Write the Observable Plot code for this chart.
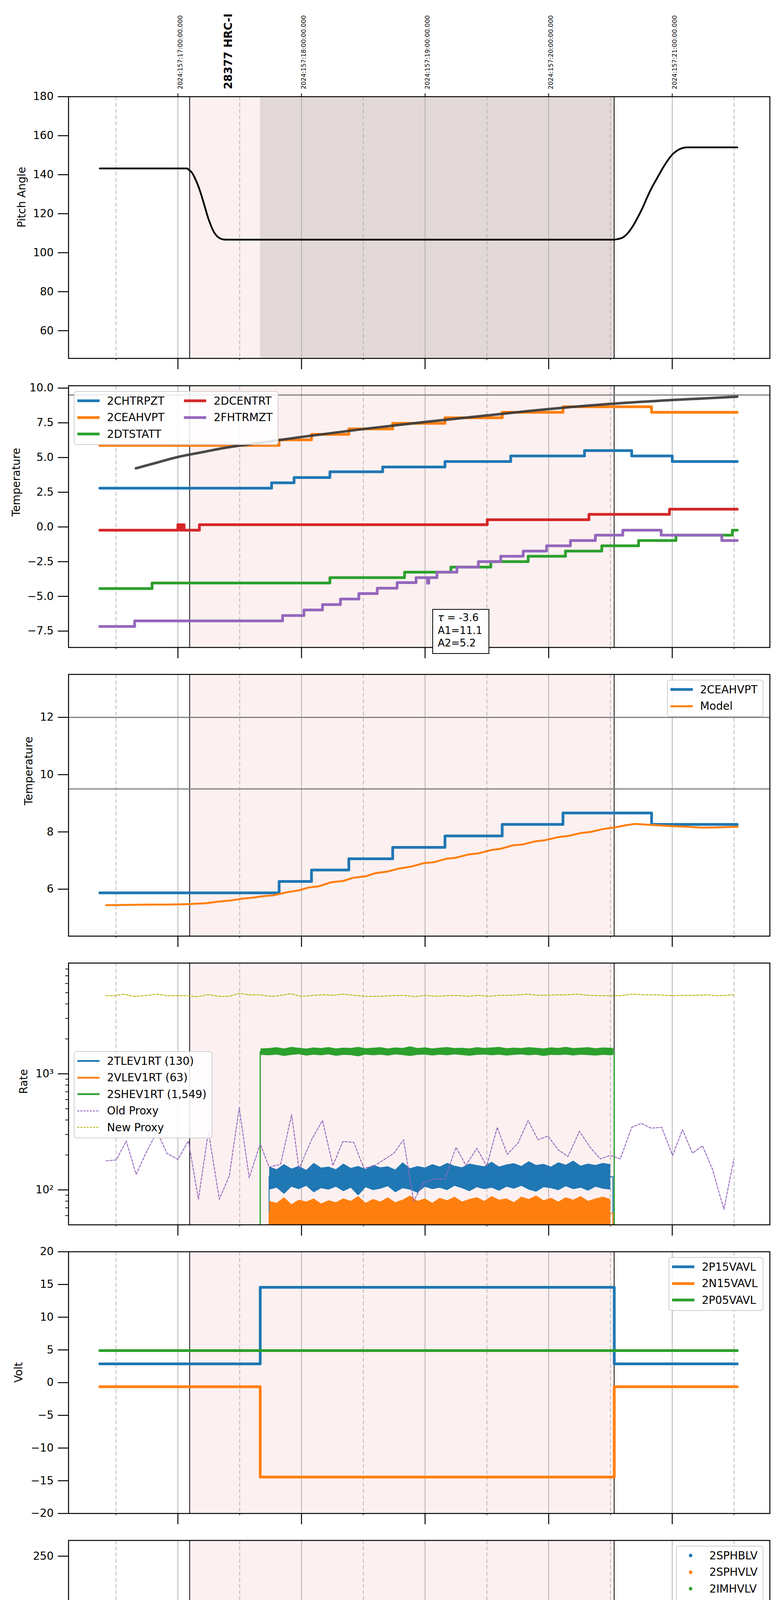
<!DOCTYPE html>
<html><head><meta charset="utf-8">
<script src="https://cdn.jsdelivr.net/npm/d3@7"></script>
<script src="https://cdn.jsdelivr.net/npm/@observablehq/plot@0.6"></script>
<style>
body{margin:0;background:#fff;font-family:"DejaVu Sans",sans-serif;}
#root{position:relative;width:2000px;height:6200px;overflow:hidden;background:#fff;}
.legend{position:absolute;background:rgba(255,255,255,0.85);border:2px solid #d0d0d0;border-radius:7px;font-size:27.8px;padding:2px 13px 4px 7px;box-sizing:border-box;color:#000;}
.legend .grid{display:grid;grid-auto-flow:column;column-gap:50px;}
.legend .row{height:42.5px;display:flex;align-items:center;white-space:nowrap;}
.legend svg{margin-right:19px;flex:none;}
.annot{position:absolute;background:#fff;border:2.5px solid #000;font-size:26px;line-height:32.5px;padding:4px 12px 0 12px;box-sizing:border-box;white-space:nowrap;}
</style></head><body><div id="root"></div>
<script>
// ---------- shared x-axis data ----------
const X_DOMAIN = [12.115, 17.79];
const HOURS = [13, 14, 15, 16, 17];
const HALVES = [12.5, 13.5, 14.5, 15.5, 16.5, 17.5];
const HOUR_LABELS = ["13h", "14h", "15h", "16h", "17h"];
const HALF_LABEL = "30";
const UTC_LABELS = ["2024:157:17:00:00.000", "2024:157:18:00:00.000", "2024:157:19:00:00.000", "2024:157:20:00:00.000", "2024:157:21:00:00.000"];
const OBSID_LABEL = "28377 HRC-I";
const OBSID_X = 13.376;
const OBS_SPAN = [13.095, 16.53];
const DARK_SPAN = [13.665, 16.53];
const X_LABEL = "2024-06-05 (157)";

// ---------- panel 1: pitch ----------
const pitchT = [12.368, 13.072, 13.093, 13.114, 13.135, 13.156, 13.178, 13.199, 13.22, 13.24, 13.262, 13.283, 13.304, 13.325, 13.346, 13.367, 13.40, 16.53, 16.56, 16.60, 16.64, 16.68, 16.72, 16.76, 16.80, 16.84, 16.88, 16.92, 16.96, 17.00, 17.04, 17.08, 17.12, 17.526];
const pitchV = [143.2, 143.2, 142.3, 141.0, 138.6, 135.6, 131.8, 127.6, 123.1, 118.7, 114.8, 111.6, 109.4, 108.0, 107.2, 106.8, 106.7, 106.7, 107.0, 107.8, 110.0, 113.5, 118.0, 123.0, 128.8, 134.0, 138.5, 143.0, 147.0, 150.3, 152.4, 153.6, 154.0, 154.0];

// ---------- panel 2: temperatures ----------
const chtrpztT = [12.368, 13.758, 13.94, 14.23, 14.657, 15.161, 15.693, 16.29, 16.672, 17.0, 17.526];
const chtrpztV = [2.79, 3.18, 3.56, 3.97, 4.32, 4.71, 5.11, 5.50, 5.11, 4.71, 4.71];
const ceahvptT = [12.368, 13.819, 14.081, 14.383, 14.738, 15.161, 15.624, 16.116, 16.833, 17.526];
const ceahvptV = [5.87, 6.27, 6.67, 7.06, 7.46, 7.86, 8.26, 8.66, 8.26, 8.26];
const dtstattT = [12.368, 12.791, 14.23, 14.834, 15.209, 15.532, 15.834, 16.136, 16.43, 16.728, 17.03, 17.486, 17.526];
const dtstattV = [-4.44, -4.04, -3.65, -3.26, -2.89, -2.50, -2.11, -1.74, -1.36, -0.98, -0.59, -0.23, -0.23];
const dcentrtT = [12.368, 13.0, 13.02, 13.035, 13.05, 13.174, 15.503, 16.326, 16.978, 17.526];
const dcentrtV = [-0.23, 0.16, -0.23, 0.16, -0.23, 0.16, 0.52, 0.91, 1.28, 1.28];
const fhtrmztT = [12.368, 12.65, 13.847, 14.02, 14.17, 14.315, 14.464, 14.613, 14.774, 14.927, 15.02, 15.03, 15.096, 15.258, 15.431, 15.612, 15.794, 15.983, 16.176, 16.378, 16.6, 16.91, 17.401, 17.526];
const fhtrmztV = [-7.17, -6.77, -6.38, -5.98, -5.59, -5.19, -4.80, -4.41, -4.01, -3.65, -4.05, -3.65, -3.26, -2.89, -2.50, -2.11, -1.74, -1.36, -0.98, -0.59, -0.23, -0.59, -0.98, -0.98];
const fitT = [12.66, 12.8, 13.0, 13.2, 13.375, 13.6, 14.0, 14.5, 15.0, 15.5, 16.0, 16.53, 17.0, 17.526];
const fitV = [4.22, 4.56, 5.04, 5.39, 5.69, 5.98, 6.48, 7.05, 7.56, 8.03, 8.49, 8.88, 9.14, 9.38];
const P2_LIMIT = [9.5];
const FIT_TEXT = ["τ", " = -3.6", "A1=11.1", "A2=5.2"];

// ---------- panel 3: model ----------
const P3_LIMITS = [12, 9.5];
const modelT = [12.42, 12.61, 12.77, 12.93, 13.09, 13.23, 13.335, 13.42, 13.52, 13.60, 13.70, 13.78, 13.88, 13.98, 14.06, 14.14, 14.24, 14.34, 14.42, 14.52, 14.60, 14.69, 14.79, 14.89, 14.99, 15.07, 15.17, 15.25, 15.35, 15.43, 15.53, 15.61, 15.71, 15.79, 15.89, 15.97, 16.08, 16.16, 16.26, 16.34, 16.44, 16.54, 16.62, 16.70, 16.84, 17.00, 17.12, 17.24, 17.37, 17.53];
const modelV = [5.44, 5.45, 5.46, 5.46, 5.48, 5.51, 5.57, 5.60, 5.67, 5.70, 5.76, 5.79, 5.89, 5.96, 6.06, 6.10, 6.24, 6.29, 6.40, 6.45, 6.56, 6.61, 6.72, 6.79, 6.91, 6.94, 7.06, 7.10, 7.21, 7.25, 7.36, 7.41, 7.53, 7.56, 7.67, 7.71, 7.82, 7.86, 7.96, 8.00, 8.10, 8.16, 8.23, 8.28, 8.24, 8.20, 8.18, 8.15, 8.16, 8.18];

// ---------- panel 4: rates ----------
const RATE_FLOOR = 45;
const rateT = [13.74,13.80,13.86,13.92,13.98,14.04,14.10,14.16,14.22,14.28,14.34,14.40,14.46,14.52,14.58,14.64,14.70,14.76,14.82,14.88,14.94,15.00,15.06,15.12,15.18,15.24,15.30,15.36,15.42,15.48,15.54,15.60,15.66,15.72,15.78,15.84,15.90,15.96,16.02,16.08,16.14,16.20,16.26,16.32,16.38,16.44,16.50];
const tlevHi = [158,150,166,152,160,148,170,155,158,150,168,154,160,151,163,156,159,149,172,153,160,155,166,158,170,161,156,168,163,159,174,158,165,169,160,176,163,167,158,172,164,178,161,168,163,170,166];
const tlevLo = [100,104,92,106,101,108,95,103,100,106,97,104,89,105,99,102,107,95,103,100,94,106,101,104,99,108,103,97,105,101,104,98,106,102,108,100,96,105,103,99,107,101,104,98,106,102,100];
const vlevHi = [80,77,86,75,82,79,84,76,81,78,84,80,88,77,83,79,86,78,82,89,80,84,77,85,81,87,79,83,86,80,88,82,84,78,87,83,89,81,85,79,86,82,88,80,84,87,83];
const shevT = [13.67,13.74,13.80,13.86,13.92,13.98,14.04,14.10,14.16,14.22,14.28,14.34,14.40,14.46,14.52,14.58,14.64,14.70,14.76,14.82,14.88,14.94,15.00,15.06,15.12,15.18,15.24,15.30,15.36,15.42,15.48,15.54,15.60,15.66,15.72,15.78,15.84,15.90,15.96,16.02,16.08,16.14,16.20,16.26,16.32,16.38,16.44,16.50,16.525];
const shevHi = [1650,1660,1690,1650,1700,1670,1645,1680,1660,1695,1650,1675,1665,1700,1655,1670,1690,1650,1680,1665,1720,1660,1685,1650,1675,1695,1660,1670,1650,1690,1665,1680,1700,1655,1675,1660,1690,1670,1650,1685,1665,1700,1660,1675,1690,1655,1680,1670,1660];
const shevLo = [1450,1440,1460,1420,1450,1470,1430,1455,1440,1465,1425,1450,1445,1410,1460,1440,1455,1430,1465,1445,1420,1450,1460,1435,1455,1440,1465,1445,1425,1450,1460,1440,1455,1430,1450,1465,1440,1455,1420,1450,1445,1460,1435,1455,1445,1430,1450,1440,1450];
const shevEdgeT = [13.55, 13.666, 16.531, 16.6];
const shevEdgeV = [30, 1549, 30, 30];
const tlevEdgeT = [13.65, 13.738, 16.52, 16.6];
const tlevEdgeV = [30, 130, 30, 30];
const vlevEdgeT = [13.65, 13.738, 16.52, 16.6];
const vlevEdgeV = [30, 63, 30, 30];
const oldProxyT = [12.42,12.501,12.582,12.662,12.743,12.831,12.912,13.0,13.085,13.166,13.247,13.335,13.416,13.496,13.577,13.666,13.738,13.831,13.92,13.98,14.081,14.17,14.254,14.335,14.423,14.504,14.585,14.746,14.826,14.907,14.988,15.068,15.161,15.25,15.33,15.419,15.499,15.584,15.665,15.753,15.834,15.914,15.995,16.076,16.156,16.249,16.338,16.418,16.499,16.58,16.672,16.749,16.83,16.914,17.003,17.083,17.164,17.244,17.325,17.418,17.498];
const oldProxyV = [178,181,264,136,210,317,206,183,264,83,320,83,132,509,127,249,157,166,445,151,270,396,162,261,257,154,160,206,270,80,115,124,124,233,163,228,160,346,202,254,396,270,291,222,194,320,231,185,198,185,346,374,340,346,198,330,207,240,151,68,183];
const newProxyT = [12.42,12.489,12.561,12.65,12.731,12.831,12.912,13.0,13.073,13.162,13.247,13.335,13.416,13.496,13.577,13.658,13.758,13.839,13.911,14.0,14.101,14.182,14.254,14.335,14.423,14.524,14.625,14.726,14.826,14.915,14.996,15.088,15.189,15.27,15.35,15.431,15.511,15.592,15.673,15.753,15.834,15.914,15.995,16.076,16.156,16.237,16.317,16.398,16.499,16.58,16.68,16.761,16.882,17.003,17.083,17.184,17.285,17.365,17.498];
const newProxyV = [4710,4710,4860,4650,4710,4860,4710,4710,4710,4620,4820,4650,4650,4940,4790,4790,4650,4750,4900,4650,4750,4800,4750,4860,4750,4650,4650,4710,4750,4620,4750,4650,4730,4730,4650,4750,4650,4750,4750,4790,4860,4750,4770,4790,4800,4860,4750,4710,4710,4710,4860,4800,4790,4710,4750,4750,4790,4710,4790];
const RATE_MAJOR = [100, 1000];
const RATE_MAJOR_LABELS = ["10²", "10³"];
const RATE_MINOR = [60,70,80,90,200,300,400,500,600,700,800,900,2000,3000,4000,5000,6000,7000,8000];

// ---------- panel 5: volts ----------
const voltT = [12.368, 13.666, 16.531, 17.526];
const p15V = [2.86, 14.57, 2.86, 2.86];
const n15V = [-0.63, -14.43, -0.63, -0.63];
const p05T = [12.368, 17.526];
const p05V = [4.89, 4.89];

// ---------- panel 6: HV monitor ----------
const imhvlvT = [13.686, 13.698, 13.71, 13.722, 13.738, 14.794, 14.867, 14.879, 14.971, 15.87, 15.906];
const imhvlvV = [99.4, 95.1, 89.8, 85.3, 82.0, 126.7, 126.7, 126.7, 126.7, 126.7, 126.7];
const imhvlvSteadyT = [13.75, 16.531];
const imhvlvSteadyV = [78.8, 78.8];
const imhblvT = [13.69, 13.69, 13.694, 13.698, 13.702, 13.71, 13.722, 13.73, 13.738, 13.746, 14.794, 14.867, 14.879, 14.971, 15.87, 15.906];
const imhblvV = [126.7, 125.5, 119.0, 106.1, 104.5, 101.3, 97.5, 93.6, 90.7, 87.8, 78.8, 78.8, 78.8, 78.8, 78.8, 78.8];
const imhblvSteadyT = [13.75, 15.19, 15.19, 16.531];
const imhblvSteadyV = [85.9, 85.9, 84.9, 84.9];

// ---------- panel 7: detector temps ----------
const spinatmT = [13.666, 13.666, 13.738, 15.67, 16.519];
const spinatmV = [-5, 1.76, 2.22, 2.69, 2.69];
const spinatmFlick = [[14.689,14.705,-5,2.22],[14.766,14.93,-5,2.22],[15.02,15.169,-5,2.22],[15.773,15.914,-5,2.69]];
const sphvatmT = [13.666, 13.666, 13.85, 13.875, 14.496, 14.927, 14.944, 14.952, 15.31, 15.725, 16.136, 16.519];
const sphvatmV = [-5, 14.32, 13.98, 14.32, 14.64, 14.98, -5, 14.98, 15.32, 15.68, 16.02, 16.02];
const sphvatmFlick = [[14.689,14.705,8.3,14.64],[14.766,14.93,8.65,14.64],[14.93,15.128,8.65,14.98],[15.14,15.161,9.0,14.98],[15.773,15.914,9.28,15.68]];
const iminatmT = [13.666, 13.666, 14.927, 16.035, 16.519];
const iminatmV = [-5, -0.07, 0.37, 0.84, 0.84];
const iminatmFlick = [[14.689,14.705,-0.07,2.22],[14.766,14.93,-0.07,2.22],[14.93,14.99,0.37,2.22],[15.02,15.035,0.37,2.22],[15.06,15.09,0.37,2.22],[15.15,15.169,0.37,2.22],[15.773,15.914,0.37,2.69]];
const imhvatmT = [13.666, 13.666, 13.758, 13.891, 14.0, 14.109, 14.23, 14.371, 14.524, 14.705, 14.927, 15.189, 15.463, 15.773, 16.136, 16.531, 16.531, 16.54];
const imhvatmV = [-5, 13.28, 13.62, 13.95, 14.29, 14.64, 14.98, 15.32, 15.68, 16.02, 16.37, 16.72, 17.06, 17.40, 17.75, 25, -5, -5];
const imhvatmFlick = [[14.766,14.93,14.6,16.02],[14.93,15.189,14.9,16.37],[15.773,15.914,15.7,17.4]];

// ---------- panel 8: FEA temps ----------
const fhtrmzt8T = [12.368, 12.646, 13.84, 14.017, 14.163, 14.308, 14.46, 14.615, 14.774, 14.927, 15.096, 15.258, 15.431, 15.612, 15.794, 15.983, 16.176, 16.378, 16.6, 16.91, 17.401, 17.526];
const fhtrmzt8V = [-7.18, -6.77, -6.37, -5.97, -5.57, -5.18, -4.79, -4.39, -4.03, -3.65, -3.24, -2.86, -2.51, -2.11, -1.74, -1.36, -0.99, -0.61, -0.24, -0.61, -0.99, -0.99];
const fradpytT = [12.368, 12.52, 13.152, 13.27, 13.414, 13.597, 13.869, 14.043, 14.21, 14.377, 14.542, 14.71, 14.886, 15.068, 15.25, 15.439, 15.64, 15.834, 16.043, 16.257, 16.487, 16.793, 17.095, 17.353, 17.526];
const fradpytV = [-8.39, -8.0, -7.59, -8.0, -8.39, -8.9, -8.39, -8.0, -7.59, -7.17, -6.77, -6.37, -5.99, -5.59, -5.20, -4.81, -4.42, -4.03, -3.65, -3.25, -2.88, -2.51, -2.88, -3.25, -3.25];
const fepratmT = [13.666, 13.666, 13.73, 13.776, 13.825, 13.888, 13.97, 14.065, 14.19, 14.323, 14.464, 14.613, 14.766, 14.927, 15.108, 15.31, 15.491, 15.701, 15.922, 16.128, 16.358, 16.519];
const fepratmV = [-10, -6.87, -6.43, -6.04, -5.61, -5.21, -4.78, -4.36, -3.94, -3.51, -3.10, -2.69, -2.27, -1.83, -1.39, -0.95, -0.52, -0.09, 0.37, 0.83, 1.28, 1.28];
const fepratmFlick = [[14.689,14.705,-6.05,-2.69],[14.766,14.93,-6.05,-2.27],[14.93,15.02,-6.05,-1.83],[15.04,15.06,-6.05,-1.83],[15.10,15.12,-6.05,-1.83],[15.773,15.813,-6.05,-0.09],[15.854,15.914,-6.05,-0.09]];
const fe00atmT = [13.666,13.666,13.79,13.91,13.99,14.105,14.216,14.324,14.41,14.416,14.43,14.557,14.67,14.766,14.846,14.852,14.93,14.945,14.952,15.02,15.128,15.31,15.451,15.592,15.598,15.753,15.922,15.98,15.986,16.035,16.176,16.335,16.341,16.358,16.509,16.515,16.531,16.531,16.54];
const fe00atmV = [-10,-7.84,-7.49,-7.11,-6.76,-6.36,-6.04,-5.68,-6.04,-5.68,-5.36,-4.98,-4.63,-4.36,-4.7,-4.36,-4.04,-10,-4.04,-3.75,-3.29,-2.96,-2.62,-1.9,-2.27,-2.0,-1.62,3,-1.62,-1.28,-0.95,-1.97,-0.95,-0.61,-0.3,-0.61,3,-10,-10];
const fe00atmFlick = [[14.766,14.93,-4.36,3],[14.93,15.02,-4.04,3],[15.03,15.128,-3.75,3],[15.753,15.922,-2.0,3]];

// ---------- styling ----------
const C = {blue:"#1f77b4", orange:"#ff7f0e", green:"#2ca02c", red:"#d62728", purple:"#9467bd", olive:"#bcbd22"};
const SHADE = "#fdf0f0", DARK = "#e3d8d8";
const PANEL_TOPS = [247, 987, 1726, 2465, 3204, 3943, 4682, 5420];
const FRAME_H = 670;
const FS = 27.8;
const root = document.getElementById("root");

const idx = a => a.map((_, i) => i);
function stepLine(T, V, color, w, extra = {}) {
  return Plot.line(idx(T), {x: i => T[i], y: i => V[i], curve: "step-after", stroke: color, strokeWidth: w, clip: true, strokeLinejoin: "round", ...extra});
}
function flick(B, color) {
  return Plot.rect(B, {x1: d => d[0], x2: d => d[1], y1: d => d[2], y2: d => d[3], fill: color, clip: true, insetTop: -3.5, insetBottom: -3.5, insetLeft: -1.5, insetRight: -1.5});
}
const minusFmt = (digits) => d => (d < 0 ? "\u2212" : "") + Math.abs(d).toFixed(digits);

function panel(i, o) {
  const mt = o.mt ?? 30, mb = o.mb ?? 39;
  const last = !!o.last;
  const marks = [
    Plot.rect([OBS_SPAN], {x1: d => d[0], x2: d => d[1], fill: SHADE}),
    ...(o.pre || []),
    Plot.ruleX(HALVES, {stroke: "#b0b0b0", strokeWidth: 1.8, strokeDasharray: "10,6"}),
    Plot.ruleX(HOURS, {stroke: "#b0b0b0", strokeWidth: 2}),
    Plot.ruleX(OBS_SPAN, {stroke: "#000", strokeWidth: 2}),
    ...o.marks,
    Plot.frame({stroke: "#000", strokeWidth: 2.5}),
    Plot.axisY({ticks: o.yTicks, tickFormat: o.yFormat, tickSize: 27, tickPadding: 11, fontSize: FS, strokeWidth: 2.5, label: null}),
    o.minorY ? Plot.axisY({ticks: o.minorY, tickSize: 8, tickFormat: () => "", strokeWidth: 1.8, label: null}) : null,
    Plot.axisX({anchor: "bottom", ticks: HOURS, tickSize: 28, tickPadding: 9, fontSize: FS, strokeWidth: 2.5, label: null,
      tickFormat: last ? (d => HOUR_LABELS[HOURS.indexOf(d)]) : (() => "")}),
    Plot.axisX({anchor: "bottom", ticks: HALVES, tickSize: 5, tickPadding: 4, fontSize: 16.7, strokeWidth: 1.5, label: null,
      tickFormat: last ? (() => HALF_LABEL) : (() => "")}),
    Plot.text([o.ylabel], {frameAnchor: "left", dx: o.labelX - 175, rotate: -90, fontSize: FS, text: d => d}),
    ...(o.post || [])
  ];
  const svg = Plot.plot({
    width: 2000, height: mt + FRAME_H + mb,
    marginLeft: 175, marginRight: 29, marginTop: mt, marginBottom: mb,
    x: {domain: X_DOMAIN, axis: null},
    y: {domain: o.yDomain, type: o.yType || "linear", axis: null},
    style: {fontFamily: "DejaVu Sans", fontSize: FS + "px", background: "transparent", overflow: "visible", color: "#000"},
    marks
  });
  svg.style.position = "absolute";
  svg.style.left = "0px";
  svg.style.top = (PANEL_TOPS[i] - mt) + "px";
  root.appendChild(svg);
}

function legend(pos, items, rows) {
  const div = document.createElement("div");
  div.className = "legend";
  if (pos.left != null) div.style.left = pos.left + "px";
  if (pos.right != null) div.style.right = pos.right + "px";
  div.style.top = pos.top + "px";
  const grid = document.createElement("div");
  grid.className = "grid";
  grid.style.gridTemplateRows = `repeat(${rows || items.length}, 42.5px)`;
  for (const it of items) {
    const row = document.createElement("div");
    row.className = "row";
    let sw;
    if (it.kind === "dot") sw = `<svg width="57" height="20"><circle cx="28.5" cy="10" r="4.5" fill="${it.color}"/></svg>`;
    else sw = `<svg width="57" height="20"><line x1="0" x2="57" y1="10" y2="10" stroke="${it.color}" stroke-width="${it.w}" ${it.dash ? `stroke-dasharray="${it.dash}"` : ""}/></svg>`;
    row.innerHTML = sw + `<span>${it.label}</span>`;
    grid.appendChild(row);
  }
  div.appendChild(grid);
  root.appendChild(div);
}

// ---------- panel 1 ----------
panel(0, {
  mt: 247, mb: 40, yDomain: [45.8, 180], yTicks: [60, 80, 100, 120, 140, 160, 180], yFormat: d => String(d),
  ylabel: "Pitch Angle", labelX: 56,
  pre: [Plot.rect([DARK_SPAN], {x1: d => d[0], x2: d => d[1], fill: DARK})],
  marks: [
    Plot.line(idx(pitchT), {x: i => pitchT[i], y: i => pitchV[i], curve: "monotone-x", stroke: "#000", strokeWidth: 4.5})
  ],
  post: [
    Plot.axisX({anchor: "top", ticks: HOURS, tickSize: 9, tickFormat: () => "", strokeWidth: 2, label: null}),
    Plot.text(idx(UTC_LABELS), {x: i => HOURS[i], text: i => UTC_LABELS[i], frameAnchor: "top", dy: -19, rotate: -90, textAnchor: "start", fontSize: 16}),
    Plot.text([OBSID_LABEL], {x: () => OBSID_X, text: d => d, frameAnchor: "top", dy: -19, rotate: -90, textAnchor: "start", fontSize: FS, fontWeight: "bold"})
  ]
});

// ---------- panel 2 ----------
panel(1, {
  yDomain: [-8.68, 10.17], yTicks: [-7.5, -5, -2.5, 0, 2.5, 5, 7.5, 10], yFormat: minusFmt(1),
  ylabel: "Temperature", labelX: 42,
  marks: [
    Plot.ruleY(P2_LIMIT, {stroke: "#808080", strokeWidth: 3}),
    stepLine(chtrpztT, chtrpztV, C.blue, 7),
    stepLine(ceahvptT, ceahvptV, C.orange, 7),
    stepLine(dtstattT, dtstattV, C.green, 7),
    stepLine(dcentrtT, dcentrtV, C.red, 7),
    stepLine(fhtrmztT, fhtrmztV, C.purple, 7),
    Plot.line(idx(fitT), {x: i => fitT[i], y: i => fitV[i], curve: "monotone-x", stroke: "#3a3a3a", strokeOpacity: 0.92, strokeWidth: 6.5})
  ]
});
legend({left: 189, top: 1001}, [
  {label: "2CHTRPZT", color: C.blue, w: 7},
  {label: "2CEAHVPT", color: C.orange, w: 7},
  {label: "2DTSTATT", color: C.green, w: 7},
  {label: "2DCENTRT", color: C.red, w: 7},
  {label: "2FHTRMZT", color: C.purple, w: 7}
], 3);
{
  const a = document.createElement("div");
  a.className = "annot";
  a.style.left = "1107px"; a.style.top = "1559px"; a.style.width = "146px"; a.style.height = "115px";
  a.innerHTML = `<div><i>${FIT_TEXT[0]}</i>${FIT_TEXT[1]}</div><div>${FIT_TEXT[2]}</div><div>${FIT_TEXT[3]}</div>`;
  root.appendChild(a);
}

// ---------- panel 3 ----------
panel(2, {
  yDomain: [4.36, 13.5], yTicks: [6, 8, 10, 12], yFormat: d => String(d),
  ylabel: "Temperature", labelX: 74,
  marks: [
    Plot.ruleY(P3_LIMITS, {stroke: "#808080", strokeWidth: 3}),
    stepLine(ceahvptT, ceahvptV, C.blue, 7),
    Plot.line(idx(modelT), {x: i => modelT[i], y: i => modelV[i], stroke: C.orange, strokeWidth: 5})
  ]
});
legend({right: 45, top: 1740}, [
  {label: "2CEAHVPT", color: C.blue, w: 7},
  {label: "Model", color: C.orange, w: 5}
]);

// ---------- panel 4 ----------
panel(3, {
  yDomain: [50, 9000], yType: "log", yTicks: RATE_MAJOR, yFormat: d => RATE_MAJOR_LABELS[RATE_MAJOR.indexOf(d)], minorY: RATE_MINOR,
  ylabel: "Rate", labelX: 61,
  marks: [
    Plot.areaY(idx(rateT), {x: i => rateT[i], y1: i => tlevLo[i], y2: i => tlevHi[i], fill: C.blue, clip: true}),
    stepLine(tlevEdgeT, tlevEdgeV, C.blue, 2.5),
    Plot.areaY(idx(rateT), {x: i => rateT[i], y1: () => RATE_FLOOR, y2: i => vlevHi[i], fill: C.orange, clip: true}),
    stepLine(vlevEdgeT, vlevEdgeV, C.orange, 2.5),
    Plot.areaY(idx(shevT), {x: i => shevT[i], y1: i => shevLo[i], y2: i => shevHi[i], fill: C.green, clip: true}),
    stepLine(shevEdgeT, shevEdgeV, C.green, 3),
    Plot.line(idx(oldProxyT), {x: i => oldProxyT[i], y: i => oldProxyV[i], stroke: C.purple, strokeWidth: 2.3, strokeDasharray: "6,4", clip: true}),
    Plot.line(idx(newProxyT), {x: i => newProxyT[i], y: i => newProxyV[i], stroke: C.olive, strokeWidth: 2.5, strokeDasharray: "6,4", clip: true})
  ]
});
legend({left: 189, top: 2691}, [
  {label: "2TLEV1RT (130)", color: C.blue, w: 4.5},
  {label: "2VLEV1RT (63)", color: C.orange, w: 4.5},
  {label: "2SHEV1RT (1,549)", color: C.green, w: 4.5},
  {label: "Old Proxy", color: C.purple, w: 2.5, dash: "5,3"},
  {label: "New Proxy", color: C.olive, w: 2.5, dash: "5,3"}
]);

// ---------- panel 5 ----------
panel(4, {
  yDomain: [-20, 20], yTicks: [-20, -15, -10, -5, 0, 5, 10, 15, 20], yFormat: minusFmt(0),
  ylabel: "Volt", labelX: 48,
  marks: [
    stepLine(voltT, p15V, C.blue, 7),
    stepLine(voltT, n15V, C.orange, 7),
    stepLine(p05T, p05V, C.green, 7)
  ]
});
legend({right: 45, top: 3218}, [
  {label: "2P15VAVL", color: C.blue, w: 7},
  {label: "2N15VAVL", color: C.orange, w: 7},
  {label: "2P05VAVL", color: C.green, w: 7}
]);

// ---------- panel 6 ----------
panel(5, {
  yDomain: [0, 266], yTicks: [0, 50, 100, 150, 200, 250], yFormat: d => String(d),
  ylabel: "HV Monitor", labelX: 54,
  marks: [
    Plot.line(idx(imhvlvSteadyT), {x: i => imhvlvSteadyT[i], y: i => imhvlvSteadyV[i], stroke: C.green, strokeWidth: 11, strokeLinecap: "round"}),
    Plot.dot(idx(imhvlvT), {x: i => imhvlvT[i], y: i => imhvlvV[i], r: 5.5, fill: C.green}),
    Plot.line(idx(imhblvSteadyT), {x: i => imhblvSteadyT[i], y: i => imhblvSteadyV[i], stroke: C.red, strokeWidth: 12, strokeLinecap: "round"}),
    Plot.dot(idx(imhblvT), {x: i => imhblvT[i], y: i => imhblvV[i], r: 5.5, fill: C.red})
  ]
});
legend({right: 45, top: 3957}, [
  {label: "2SPHBLV", color: C.blue, kind: "dot"},
  {label: "2SPHVLV", color: C.orange, kind: "dot"},
  {label: "2IMHVLV", color: C.green, kind: "dot"},
  {label: "2IMHBLV", color: C.red, kind: "dot"}
]);

// ---------- panel 7 ----------
panel(6, {
  yDomain: [-1.59, 18.87], yTicks: [0, 2.5, 5, 7.5, 10, 12.5, 15, 17.5], yFormat: minusFmt(1),
  ylabel: "Detector Temp", labelX: 47,
  marks: [
    stepLine(spinatmT, spinatmV, C.blue, 7), flick(spinatmFlick, C.blue),
    stepLine(sphvatmT, sphvatmV, C.orange, 7), flick(sphvatmFlick, C.orange),
    stepLine(iminatmT, iminatmV, C.green, 7), flick(iminatmFlick, C.green),
    stepLine(imhvatmT, imhvatmV, C.red, 7), flick(imhvatmFlick, C.red)
  ]
});
legend({right: 45, top: 4695}, [
  {label: "2SPINATM", color: C.blue, w: 7},
  {label: "2SPHVATM", color: C.orange, w: 7},
  {label: "2IMINATM", color: C.green, w: 7},
  {label: "2IMHVATM", color: C.red, w: 7}
]);

// ---------- panel 8 ----------
panel(7, {
  mb: 110, last: true,
  yDomain: [-8.67, 1.42], yTicks: [-8, -6, -4, -2, 0], yFormat: minusFmt(0),
  ylabel: "FEA Temp", labelX: 66,
  marks: [
    stepLine(fhtrmzt8T, fhtrmzt8V, C.blue, 7),
    stepLine(fradpytT, fradpytV, C.orange, 7),
    stepLine(fepratmT, fepratmV, C.green, 7), flick(fepratmFlick, C.green),
    stepLine(fe00atmT, fe00atmV, C.red, 7), flick(fe00atmFlick, C.red)
  ],
  post: [Plot.text([X_LABEL], {frameAnchor: "bottom", dy: 91, fontSize: 33, text: d => d})]
});
legend({left: 189, top: 5434}, [
  {label: "2FHTRMZT", color: C.blue, w: 7},
  {label: "2FRADPYT", color: C.orange, w: 7},
  {label: "2FEPRATM", color: C.green, w: 7},
  {label: "2FE00ATM", color: C.red, w: 7}
]);
</script></body></html>
